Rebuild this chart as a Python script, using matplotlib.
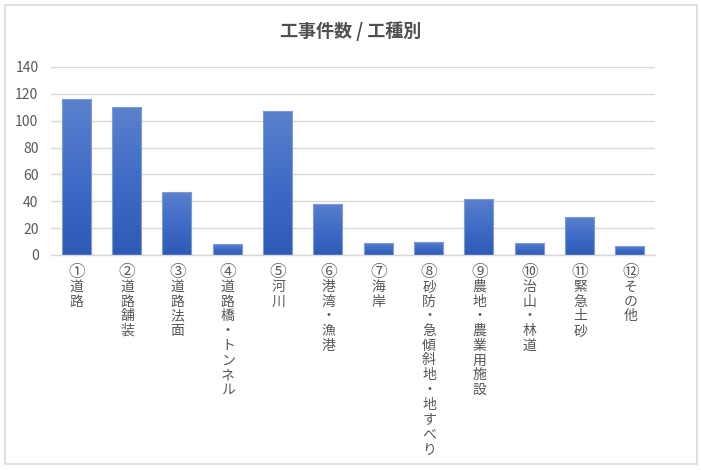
import matplotlib
matplotlib.use("Agg")
import matplotlib.pyplot as plt
import numpy as np
from matplotlib.colors import LinearSegmentedColormap
from matplotlib.patches import Rectangle

plt.rcParams['font.family'] = ['Noto Sans CJK JP', 'DejaVu Sans']

title = "工事件数 / 工種別"
categories = ["①道路", "②道路舗装", "③道路法面", "④道路橋・トンネル", "⑤河川",
              "⑥港湾・漁港", "⑦海岸", "⑧砂防・急傾斜地・地すべり", "⑨農地・農業用施設",
              "⑩治山・林道", "⑪緊急土砂", "⑫その他"]
values = [116, 110, 47, 8, 107, 38, 9, 10, 42, 9, 28, 7]
yticks = [0, 20, 40, 60, 80, 100, 120, 140]

W, H = 701, 470
fig = plt.figure(figsize=(W / 100, H / 100), dpi=100)
fig.patch.set_facecolor('white')

# outer chart border
fig.patches.append(Rectangle((5 / W, 6 / H), 692 / W, 459 / H, transform=fig.transFigure,
                             fill=False, edgecolor='#d9dde6', linewidth=1.3))

ax = fig.add_axes([51 / W, 215 / H, 604 / W, 188 / H])
ax.set_xlim(-0.5, len(categories) - 0.5)
ax.set_ylim(0, 140)
ax.set_yticks(yticks)
ax.set_yticklabels([str(t) for t in yticks], color='#595959', fontsize=10)
ax.tick_params(axis='y', length=0, pad=9)
ax.tick_params(axis='x', length=0, labelbottom=False)
for s in ['top', 'right', 'left']:
    ax.spines[s].set_visible(False)
ax.spines['bottom'].set_color('#d9d9d9')
ax.spines['bottom'].set_linewidth(1.0)
ax.yaxis.grid(True, color='#d9d9d9', linewidth=1.0)
ax.set_axisbelow(True)

cmap = LinearSegmentedColormap.from_list('g', ['#2c5ab5', '#3f6cc6', '#5b81cd'])
grad = np.linspace(0, 1, 256).reshape(-1, 1)
x = np.arange(len(categories))
bars = ax.bar(x, values, width=0.58, color='none', edgecolor='#7f9bd6', linewidth=0.8, zorder=3)
for b in bars:
    x0, w, h = b.get_x(), b.get_width(), b.get_height()
    im = ax.imshow(grad, cmap=cmap, aspect='auto', origin='lower',
                   extent=(x0, x0 + w, 0, h), zorder=2)
    im.set_clip_path(b)
ax.set_xlim(-0.5, len(categories) - 0.5)
ax.set_ylim(0, 140)

# vertical stacked category labels
pitch = 10.6  # points
circled = set("①②③④⑤⑥⑦⑧⑨⑩⑪⑫")
for i, lab in enumerate(categories):
    for k, ch in enumerate(lab):
        ax.annotate(ch, xy=(i, 0), xycoords=('data', 'axes fraction'),
                    xytext=(0.5, -12.3 - k * pitch), textcoords='offset points',
                    ha='center', va='center', fontsize=12 if ch in circled else 10,
                    color='#595959')

fig.text(351 / W, 1 - 31 / H, title, ha='center', va='center', fontsize=13,
         color='#505050', fontweight='bold')

fig.savefig('out.png', dpi=100)
